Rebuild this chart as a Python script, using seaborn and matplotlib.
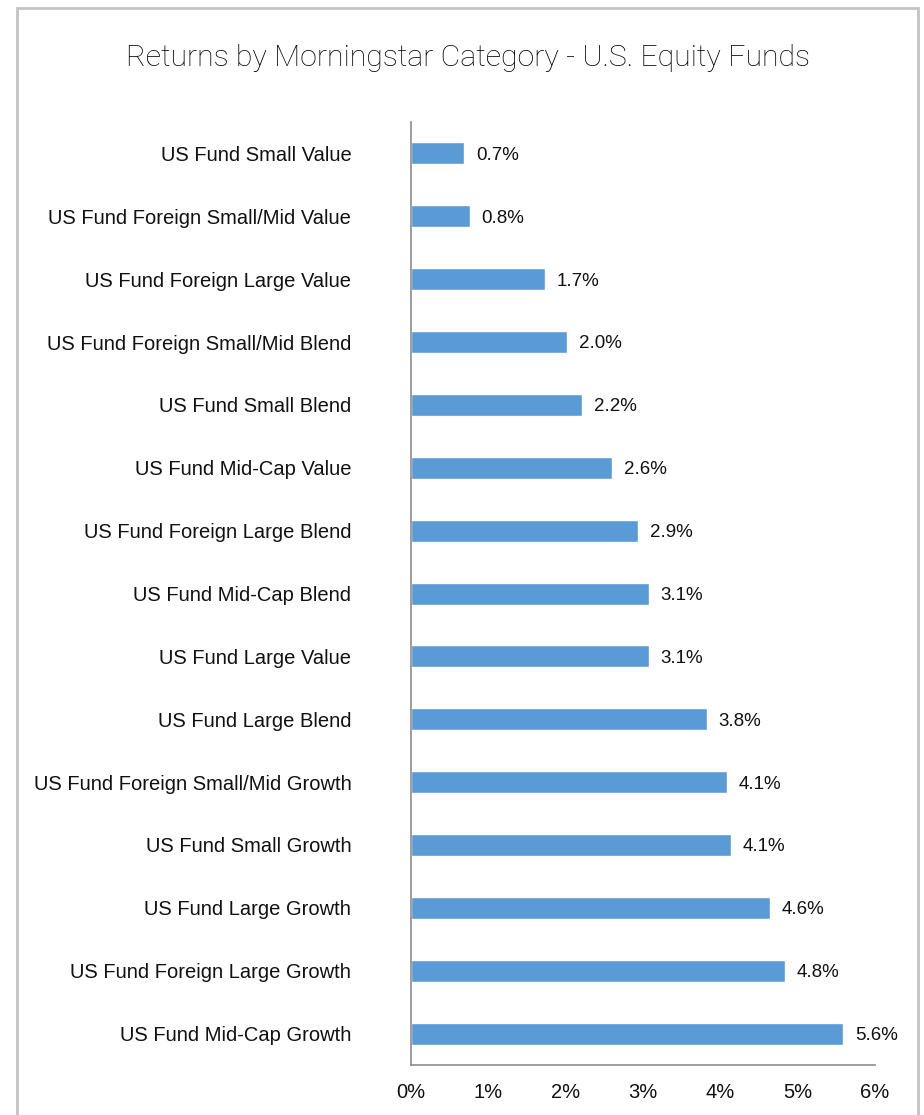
import matplotlib
matplotlib.use("Agg")
import matplotlib.pyplot as plt
import pandas as pd
import seaborn as sns
from matplotlib.patches import Rectangle

# Data
categories = [
    "US Fund Small Value",
    "US Fund Foreign Small/Mid Value",
    "US Fund Foreign Large Value",
    "US Fund Foreign Small/Mid Blend",
    "US Fund Small Blend",
    "US Fund Mid-Cap Value",
    "US Fund Foreign Large Blend",
    "US Fund Mid-Cap Blend",
    "US Fund Large Value",
    "US Fund Large Blend",
    "US Fund Foreign Small/Mid Growth",
    "US Fund Small Growth",
    "US Fund Large Growth",
    "US Fund Foreign Large Growth",
    "US Fund Mid-Cap Growth",
]
returns = [0.69, 0.76, 1.73, 2.02, 2.21, 2.60, 2.94, 3.08, 3.08, 3.83,
           4.09, 4.14, 4.64, 4.83, 5.59]
x_ticks = [0, 1, 2, 3, 4, 5, 6]

title = "Returns by Morningstar Category - U.S. Equity Funds"

df = pd.DataFrame({"category": categories, "ret": returns})

sns.set_style("white")
plt.rcParams["font.family"] = ["Liberation Sans", "DejaVu Sans"]

fig = plt.figure(figsize=(9.24, 11.15), dpi=100)
ax = fig.add_axes([0.4448, 0.0448, 0.5022, 0.8458])

sns.barplot(data=df, x="ret", y="category", color="#5B9BD5",
            width=0.35, saturation=1, ax=ax)

for i, v in enumerate(returns):
    ax.text(v + 0.15, i + 0.03, f"{v:.1f}%", va="center", ha="left",
            fontsize=13.5, color="#111111")

ax.set_xlim(0, 6)
ax.set_xticks(x_ticks)
ax.set_xticklabels([f"{t}%" for t in x_ticks])
ax.set_xlabel("")
ax.set_ylabel("")
ax.tick_params(axis="y", length=0, pad=43, labelsize=14.5, labelcolor="#111111")
ax.tick_params(axis="x", length=0, pad=13, labelsize=14.5, labelcolor="#111111")

for side in ["top", "right"]:
    ax.spines[side].set_visible(False)
for side in ["left", "bottom"]:
    ax.spines[side].set_color("#8c8c8c")
    ax.spines[side].set_linewidth(1.2)

# outer frame (open at the bottom)
fig.add_artist(Rectangle((17 / 924, -0.05), (918 - 17) / 924, 1 - 8 / 1115 + 0.05,
                         transform=fig.transFigure, fill=False,
                         edgecolor="#c4c4c4", linewidth=2))

fig.text(468 / 924, 1 - 58 / 1115, title, ha="center", va="center",
         fontsize=21.8, color="#000000", family=["Roboto", "DejaVu Sans"],
         fontweight="light")

fig.savefig("out.png", dpi=100)
